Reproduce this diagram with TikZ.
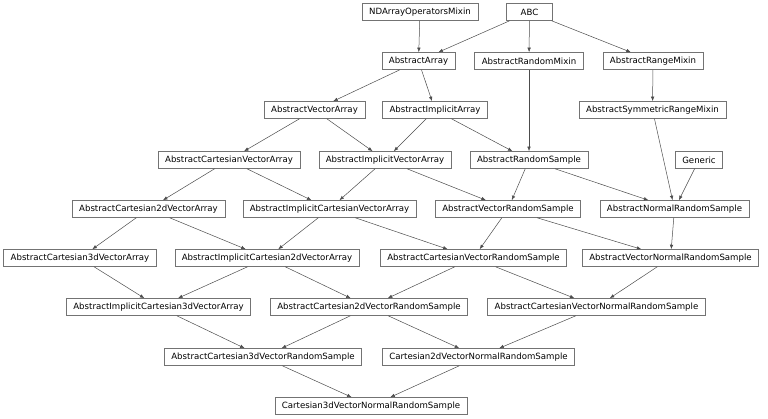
\documentclass[tikz,border=0pt]{standalone}
\usepackage{fontspec}
\setmainfont{DejaVu Sans}
\usetikzlibrary{arrows.meta}
\begin{document}
\begin{tikzpicture}[
  x=1pt, y=-1pt,
  cls/.style={draw=black!55, line width=0.6pt, minimum height=17pt, minimum width=46pt, inner xsep=7pt, inner ysep=0pt, font=\fontsize{8.6}{10}\selectfont},
  inh/.style={draw=black!70, line width=0.5pt, -{Latex[length=4.5pt,width=3.5pt]}}
]
\useasboundingbox (0,0) rectangle (768,418);
% bases
\node[cls] (ndmixin) at (420,12) {NDArrayOperatorsMixin};
\node[cls] (abc) at (529.5,12) {ABC};
\node[cls] (absarray) at (418.5,61) {AbstractArray};
\node[cls] (randmixin) at (529,61) {AbstractRandomMixin};
\node[cls] (rangemixin) at (653,61) {AbstractRangeMixin};
\node[cls] (vecarray) at (314.5,110) {AbstractVectorArray};
\node[cls] (implarray) at (435,110) {AbstractImplicitArray};
\node[cls] (symrange) at (652.5,110) {AbstractSymmetricRangeMixin};
\node[cls] (cartvec) at (229,160) {AbstractCartesianVectorArray};
\node[cls] (implvec) at (385,160) {AbstractImplicitVectorArray};
\node[cls] (randsample) at (529,160) {AbstractRandomSample};
\node[cls] (generic) at (699,160) {Generic};
\node[cls] (cart2d) at (148.5,209) {AbstractCartesian2dVectorArray};
\node[cls] (implcartvec) at (329.5,209) {AbstractImplicitCartesianVectorArray};
\node[cls] (vecrand) at (508,209) {AbstractVectorRandomSample};
\node[cls] (normrand) at (674.5,209) {AbstractNormalRandomSample};
\node[cls] (cart3d) at (80,258) {AbstractCartesian3dVectorArray};
\node[cls] (implcart2d) at (267,258) {AbstractImplicitCartesian2dVectorArray};
\node[cls] (cartvecrand) at (473.5,258) {AbstractCartesianVectorRandomSample};
\node[cls] (vecnormrand) at (670.5,258) {AbstractVectorNormalRandomSample};
\node[cls] (implcart3d) at (158.5,307) {AbstractImplicitCartesian3dVectorArray};
\node[cls] (cart2drand) at (369,307) {AbstractCartesian2dVectorRandomSample};
\node[cls] (cartvecnorm) at (596.5,307) {AbstractCartesianVectorNormalRandomSample};
\node[cls] (cart3drand) at (263,357) {AbstractCartesian3dVectorRandomSample};
\node[cls] (cart2dnorm) at (478.5,357) {Cartesian2dVectorNormalRandomSample};
\node[cls] (cart3dnorm) at (371,406) {Cartesian3dVectorNormalRandomSample};
% inheritance
\foreach \a/\b in {ndmixin/absarray, abc/absarray, abc/randmixin, abc/rangemixin,
  absarray/vecarray, absarray/implarray, rangemixin/symrange,
  vecarray/cartvec, vecarray/implvec, implarray/implvec, implarray/randsample,
  randmixin/randsample, symrange/normrand, randsample/vecrand, randsample/normrand,
  generic/normrand, cartvec/cart2d, cartvec/implcartvec, implvec/implcartvec,
  implvec/vecrand, cart2d/cart3d, cart2d/implcart2d, implcartvec/implcart2d,
  implcartvec/cartvecrand, vecrand/cartvecrand, vecrand/vecnormrand,
  normrand/vecnormrand, cart3d/implcart3d, implcart2d/implcart3d,
  implcart2d/cart2drand, cartvecrand/cart2drand, cartvecrand/cartvecnorm,
  vecnormrand/cartvecnorm, implcart3d/cart3drand, cart2drand/cart3drand,
  cart2drand/cart2dnorm, cartvecnorm/cart2dnorm, cart3drand/cart3dnorm,
  cart2dnorm/cart3dnorm}
  \draw[inh] (\a) -- (\b);
\end{tikzpicture}
\end{document}
